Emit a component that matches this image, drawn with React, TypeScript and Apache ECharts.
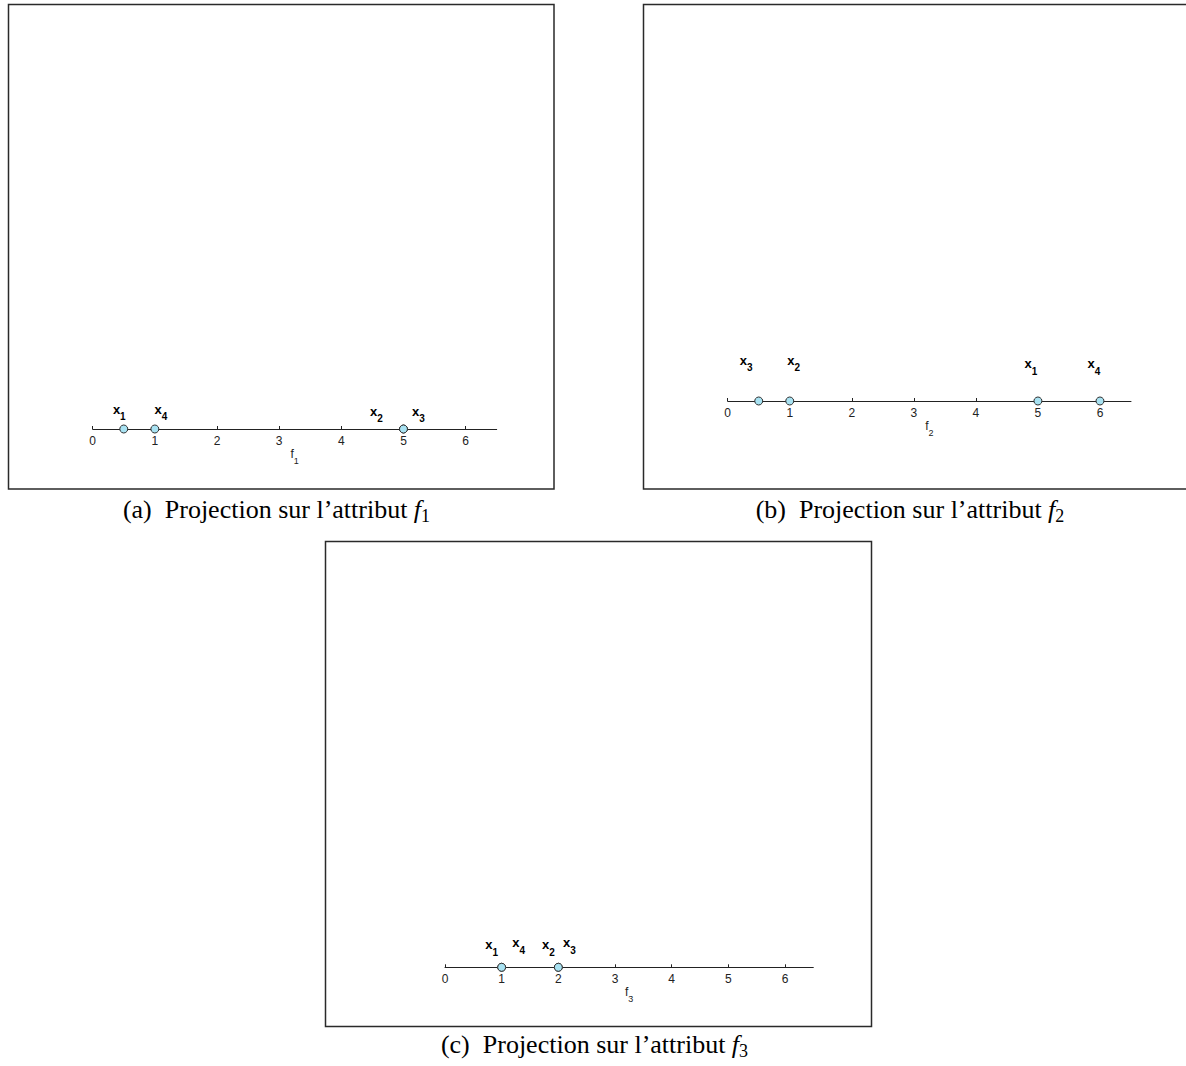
import React, { useEffect, useRef } from "react";
import * as echarts from "echarts";

// ---- data ----
const pointIndices = ["1", "2", "3", "4"]; // x1..x4
const f1Values = [0.5, 5, 5, 1];
const f2Values = [5, 1, 0.5, 6];
const f3Values = [1, 2, 2, 1];
const tickValues = [0, 1, 2, 3, 4, 5, 6];
const axisMin = 0;
const axisMax = 6.5;
const attributeIndices = ["1", "2", "3"];
const captionLetters = ["a", "b", "c"];
const captionText = "Projection sur l\u2019attribut ";

// ---- style / layout ----
const labelOffsets = [
  [[-4.5, -20], [-27, -18], [15, -18], [6, -20]],
  [[-7, -37.5], [4, -41], [-12.5, -41], [-6, -37.5]],
  [[-10, -22.5], [-10, -22.5], [11, -24.5], [17, -24.5]],
];

const panels = [
  { box: [8.5, 4.5, 545.5, 484.5], gridLeft: 92.7, gridWidth: 404, axisY: 429, cap: [276.5, 509] },
  { box: [643.5, 4.5, 546, 484.5], gridLeft: 727.7, gridWidth: 403.3, axisY: 401, cap: [910, 509] },
  { box: [325.5, 541.5, 546, 485], gridLeft: 445, gridWidth: 368.3, axisY: 967.3, cap: [594.5, 1044] },
];

const valueSets = [f1Values, f2Values, f3Values];
const SANS = "'Liberation Sans', Arial, Helvetica, sans-serif";
const SERIF = "'Liberation Serif', 'Times New Roman', serif";

export default function App() {
  const ref = useRef<HTMLDivElement>(null);
  useEffect(() => {
    if (!ref.current) return;
    const chart = echarts.init(ref.current, undefined, { renderer: "svg" });

    const grids = panels.map((p) => ({
      left: p.gridLeft,
      width: p.gridWidth,
      top: p.axisY - 300,
      height: 300,
      containLabel: false,
    }));

    const xAxes = panels.map((p, i) => ({
      gridIndex: i,
      type: "value",
      min: axisMin,
      max: axisMax,
      interval: 1,
      position: "bottom",
      axisLine: { show: true, onZero: false, lineStyle: { color: "#222", width: 1 } },
      axisTick: { show: true, inside: true, length: 3, customValues: tickValues, lineStyle: { color: "#222", width: 1 } },
      axisLabel: { customValues: tickValues, fontSize: 12, color: "#222", margin: 6, fontFamily: SANS },
      splitLine: { show: false },
      name: `{f|f}{s|${attributeIndices[i]}}`,
      nameLocation: "middle",
      nameGap: 8,
      nameTextStyle: {
        rich: {
          f: { fontSize: 12, fontFamily: SANS, color: "#222" },
          s: { fontSize: 9, fontFamily: SANS, color: "#222", padding: [14, 0, 0, 0] },
        },
      },
    }));

    const yAxes = panels.map((p, i) => ({
      gridIndex: i,
      type: "value",
      min: 0,
      max: 1,
      show: false,
    }));

    const series = panels.map((p, i) => ({
      type: "scatter",
      xAxisIndex: i,
      yAxisIndex: i,
      symbol: "circle",
      symbolSize: 8,
      clip: false,
      itemStyle: { color: "#a8e2f2", borderColor: "#333", borderWidth: 1, opacity: 1 },
      data: valueSets[i].map((v, j) => ({
        value: [v, 0],
        label: { offset: labelOffsets[i][j] },
      })),
      label: {
        show: true,
        position: "inside",
        align: "center",
        verticalAlign: "middle",
        formatter: (prm: any) => `{x|x}{s|${pointIndices[prm.dataIndex]}}`,
        rich: {
          x: { fontSize: 13, fontWeight: "bold", fontFamily: SANS, color: "#000" },
          s: { fontSize: 10, fontWeight: "bold", fontFamily: SANS, color: "#000", padding: [15, 0, 0, 0] },
        },
      },
      emphasis: { disabled: true },
    }));

    const graphic: any[] = [];
    panels.forEach((p, i) => {
      graphic.push({
        type: "rect",
        shape: { x: p.box[0], y: p.box[1], width: p.box[2], height: p.box[3] },
        style: { fill: "none", stroke: "#2a2a2a", lineWidth: 1.5 },
        silent: true,
      });
      graphic.push({
        type: "text",
        x: p.cap[0],
        y: p.cap[1],
        style: {
          text: `{n|(${captionLetters[i]})  ${captionText}}{i|f}{s|${attributeIndices[i]}}`,
          align: "center",
          verticalAlign: "middle",
          rich: {
            n: { fontSize: 26, fontFamily: SERIF, color: "#000" },
            i: { fontSize: 26, fontFamily: SERIF, fontStyle: "italic", color: "#000" },
            s: { fontSize: 18, fontFamily: SERIF, color: "#000", padding: [13, 0, 0, 0] },
          },
        },
        silent: true,
      });
    });

    chart.setOption({
      animation: false,
      backgroundColor: "#fff",
      grid: grids,
      xAxis: xAxes,
      yAxis: yAxes,
      series,
      graphic,
    } as any);

    return () => chart.dispose();
  }, []);

  return (
    <div
      ref={ref}
      style={{ position: "fixed", left: 0, top: 0, width: 1186, height: 1066, background: "#fff" }}
    />
  );
}
